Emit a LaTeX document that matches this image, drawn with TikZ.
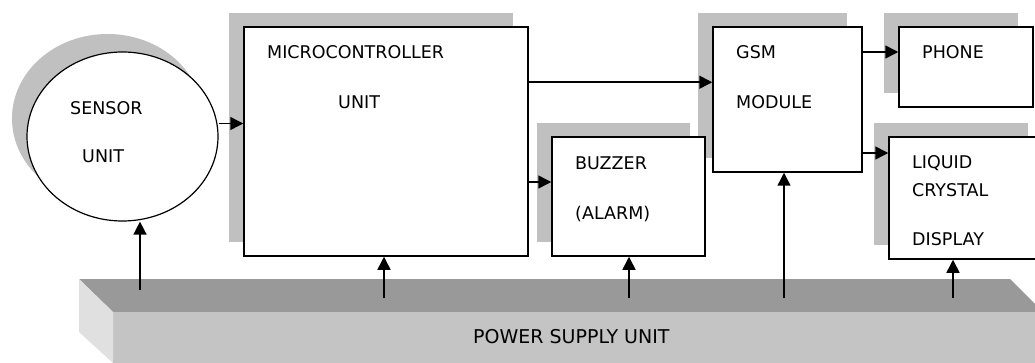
\documentclass[tikz,border=0pt]{standalone}
\usepackage{fontspec}
\setmainfont{DejaVu Sans}
\usetikzlibrary{arrows.meta,shadows,shapes.geometric}
\definecolor{shade}{HTML}{C0C0C0}
\definecolor{slabtop}{HTML}{999999}
\definecolor{slabfront}{HTML}{C4C4C4}
\definecolor{slabside}{HTML}{E0E0E0}
\begin{document}
\begin{tikzpicture}[x=1pt,y=-1pt,
  box/.style={draw, line width=1.5pt, fill=white, inner sep=0pt,
    general shadow={fill=shade, shadow xshift=-15pt, shadow yshift=14pt}},
  lbl/.style={anchor=west, inner sep=0pt, font=\fontsize{17.5}{20}\selectfont,
    text height=12.7pt, text depth=0pt},
  arr/.style={line width=1.5pt, -{Triangle[length=13pt,width=13pt]}}]
\useasboundingbox (0,0) rectangle (1035,363);
\clip (0,0) rectangle (1035,363);
\fill[white] (0,0) rectangle (1035,363);
% power supply slab
\fill[slabtop] (79,279) -- (1010,279) -- (1043,312) -- (113,312) -- cycle;
\fill[slabfront] (113,312) rectangle (1045,370);
\fill[slabside] (79,279) -- (113,312) -- (113,363) -- (79,332) -- cycle;
\node[lbl, font=\fontsize{19}{22}\selectfont] (psu) at (473,337) {POWER SUPPLY UNIT};
% blocks
\node[draw, ellipse, line width=1.2pt, fill=white, minimum width=191pt, minimum height=169pt,
  general shadow={fill=shade, shadow xshift=-15pt, shadow yshift=18pt}] (sensor) at (122.5,136.5) {};
\node[box, minimum width=284pt, minimum height=229pt] (mcu) at (386,141.5) {};
\node[box, minimum width=149pt, minimum height=145pt] (gsm) at (787.5,99.5) {};
\node[box, minimum width=153pt, minimum height=119pt] (buzzer) at (628.5,196.5) {};
\node[box, minimum width=134pt, minimum height=80pt] (phone) at (966,67) {};
\node[box, minimum width=154pt, minimum height=122pt] (lcd) at (966,198) {};
% labels
\node[lbl] (t1) at (70,108) {SENSOR};
\node[lbl] (t2) at (82,156) {UNIT};
\node[lbl] (t3) at (267,52) {MICROCONTROLLER};
\node[lbl] (t4) at (338,102) {UNIT};
\node[lbl] (t5) at (736,52) {GSM};
\node[lbl] (t6) at (736,102) {MODULE};
\node[lbl] (t7) at (575,163) {BUZZER};
\node[lbl] (t8) at (575,213) {(ALARM)};
\node[lbl] (t9) at (922,52) {PHONE};
\node[lbl] (t10) at (912,162) {LIQUID};
\node[lbl] (t11) at (912,190) {CRYSTAL};
\node[lbl] (t12) at (912,239) {DISPLAY};
% signal connectors
\coordinate (s1) at ([yshift=13pt]sensor.east);
\draw[arr] (s1) -- (s1 -| mcu.west);
\coordinate (m1) at ([yshift=-56pt]mcu.north east);
\draw[arr] (m1) -- (m1 -| gsm.west);
\coordinate (b1) at ([yshift=14.5pt]buzzer.west);
\draw[arr] (b1 -| mcu.east) -- (b1);
\coordinate (g1) at ([yshift=15pt]phone.west);
\draw[arr] (g1 -| gsm.east) -- (g1);
\coordinate (g2) at ([yshift=45pt]lcd.west);
\draw[arr] (g2 -| gsm.east) -- (g2);
% power connectors
\coordinate (p1) at (140,290);
\coordinate (p2) at (384,298);
\coordinate (p3) at (629,298);
\coordinate (p4) at (784,298);
\coordinate (p5) at (953,298);
\draw[arr] (p1) -- (p1 |- sensor.south);
\draw[arr] (p2) -- (p2 |- mcu.south);
\draw[arr] (p3) -- (p3 |- buzzer.south);
\draw[arr] (p4) -- (p4 |- gsm.south);
\draw[arr] (p5) -- (p5 |- lcd.south);
\end{tikzpicture}
\end{document}
